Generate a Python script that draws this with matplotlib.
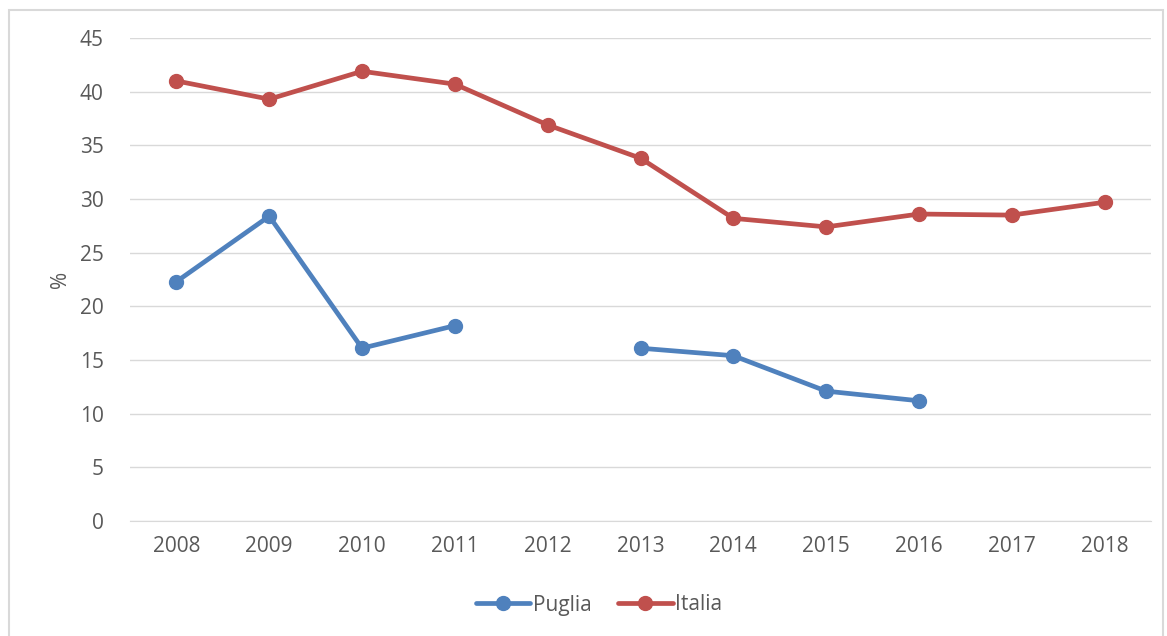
import numpy as np
import matplotlib
matplotlib.use("Agg")
import matplotlib.pyplot as plt
from matplotlib.patches import Rectangle

years = ["2008", "2009", "2010", "2011", "2012", "2013", "2014", "2015", "2016", "2017", "2018"]
puglia = [22.3, 28.4, 16.1, 18.2, np.nan, 16.1, 15.4, 12.1, 11.2, np.nan, np.nan]
italia = [41.0, 39.3, 41.9, 40.7, 36.9, 33.8, 28.2, 27.4, 28.6, 28.5, 29.7]
yticks = [0, 5, 10, 15, 20, 25, 30, 35, 40, 45]

plt.rcParams['font.family'] = ['Open Sans', 'DejaVu Sans']
txt = '#595959'
blue = '#4F81BD'
red = '#C0504D'
fs = 15

fig = plt.figure(figsize=(11.67, 6.36), dpi=100)
fig.patches.append(Rectangle((9/1167, -0.1), (1163-9)/1167, 1.1 - 10/636,
                             transform=fig.transFigure, fill=False,
                             edgecolor='#D9D9D9', linewidth=1.5))
ax = fig.add_axes([130/1167, 1 - 521/636, (1151-130)/1167, (521-38)/636])
x = np.arange(len(years))
ax.plot(x, puglia, color=blue, linewidth=3.4, marker='o', markersize=10, label='Puglia',
        solid_capstyle='round', zorder=3)
ax.plot(x, italia, color=red, linewidth=3.4, marker='o', markersize=10, label='Italia',
        solid_capstyle='round', zorder=3)

ax.set_xlim(-0.5, len(years) - 0.5)
ax.set_ylim(0, 45)
ax.set_yticks(yticks)
ax.set_xticks(x)
ax.set_xticklabels(years)
ax.tick_params(axis='both', length=0, labelsize=fs, colors=txt)
ax.tick_params(axis='y', pad=19)
ax.tick_params(axis='x', pad=11)
ax.grid(axis='y', color='#D9D9D9', linewidth=1)
ax.set_axisbelow(True)
for s in ['top', 'right', 'left']:
    ax.spines[s].set_visible(False)
ax.spines['bottom'].set_color('#D9D9D9')
ax.set_ylabel('%', fontsize=fs, color=txt, labelpad=6)

leg = fig.legend(loc='center', bbox_to_anchor=(599/1167, 1 - 605/636), ncol=2,
                 frameon=False, fontsize=fs, handlelength=2.6, columnspacing=1.3,
                 handletextpad=0.1)
for t in leg.get_texts():
    t.set_color(txt)

fig.savefig('out.png', dpi=100)
